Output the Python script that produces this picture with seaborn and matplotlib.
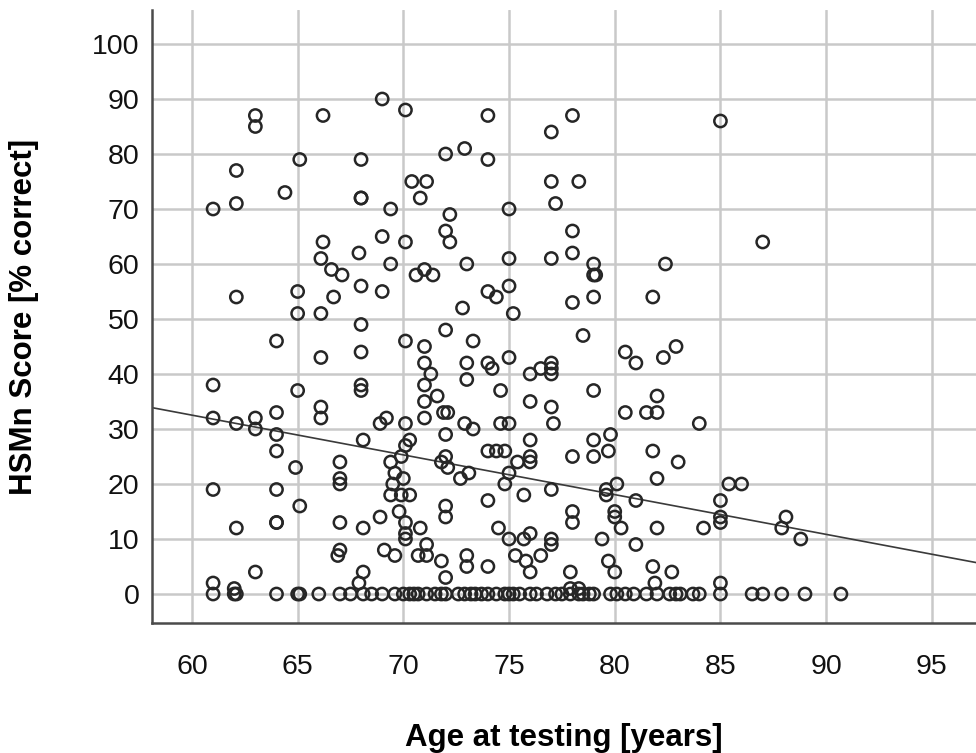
import pandas as pd
import matplotlib
matplotlib.use("Agg")
import matplotlib.pyplot as plt
import seaborn as sns

# Punkte mit Score > 0 (Alter in Jahren, Score in % korrekt)
ages = [63.0, 63.0, 66.2, 65.1, 62.1, 64.4, 62.1, 61.0,
        66.2, 66.1, 66.6, 62.1, 65.0, 65.0, 66.1, 64.0, 66.1, 61.0, 65.0, 66.1, 66.1, 61.0, 62.1, 63.0, 64.0, 63.0,
        64.0, 64.0, 64.9, 61.0, 64.0, 65.1, 62.1, 64.0, 64.0, 63.0, 61.0, 62.0,
        69.0, 70.1, 74.0, 68.0, 72.0, 72.9, 74.0, 70.4, 71.1, 68.0, 68.0, 70.8, 69.4, 72.2, 75.0,
        69.0, 70.1, 72.0, 72.2, 67.9, 67.1, 69.4, 70.6, 71.0, 71.4, 73.0, 68.0, 69.0, 66.7, 74.0, 74.4,
        72.8, 68.0, 72.0, 70.1, 71.0, 73.3, 68.0, 71.0, 73.0, 74.0, 74.2, 71.3, 73.0, 68.0, 68.0, 71.0,
        74.6, 71.6, 71.0, 71.9, 72.1, 71.0, 69.2, 68.9, 70.1, 72.9, 73.3,
        68.1, 70.3, 70.1, 72.0, 67.0, 67.0, 67.0, 69.4, 69.6, 69.9, 70.0, 69.5, 69.4, 69.9, 70.3,
        69.8, 70.1, 70.1, 70.1, 68.9, 67.0, 68.1, 70.8, 72.0, 72.0, 71.8, 72.0, 72.1, 72.7, 73.1,
        74.0, 74.4, 74.0, 74.5, 71.1, 70.7, 71.1, 67.0, 66.9, 69.1, 69.6, 71.8, 72.0, 73.0, 73.0,
        74.0, 68.1, 67.9,
        78.0, 77.0, 77.0, 78.3, 77.2, 78.0,
        75.0, 77.0, 78.0, 79.0, 79.0, 79.1, 82.4, 75.0, 75.2, 78.0, 79.0, 81.8, 78.5, 75.0, 76.0, 76.5,
        77.0, 77.0, 77.0, 80.5, 81.0, 82.3, 82.9, 79.0, 76.0, 77.0, 77.1, 74.6, 75.0, 80.5, 81.5, 82.0, 82.0,
        79.0, 79.8, 76.0, 74.8, 76.0, 76.0, 75.4, 75.0, 74.8, 78.0, 79.0, 79.7, 81.8, 82.0, 77.0, 75.7,
        79.6, 80.1, 79.6, 81.0, 78.0, 78.0, 80.0, 80.0, 80.3, 82.0, 75.0, 76.0, 75.7, 77.0, 77.0, 75.3,
        75.8, 76.5, 76.0, 79.4, 81.0, 79.7, 80.0, 81.8, 81.9, 82.7, 77.9, 77.9, 78.3,
        85.0, 87.0, 84.0, 83.0, 85.4, 86.0, 85.0, 85.0, 85.0, 84.2, 88.1, 87.9, 88.8, 85.0]
scores = [87, 85, 87, 79, 77, 73, 71, 70,
          64, 61, 59, 54, 55, 51, 51, 46, 43, 38, 37, 34, 32, 32, 31, 32, 33, 30,
          29, 26, 23, 19, 19, 16, 12, 13, 13, 4, 2, 1,
          90, 88, 87, 79, 80, 81, 79, 75, 75, 72, 72, 72, 70, 69, 70,
          65, 64, 66, 64, 62, 58, 60, 58, 59, 58, 60, 56, 55, 54, 55, 54,
          52, 49, 48, 46, 45, 46, 44, 42, 42, 42, 41, 40, 39, 38, 37, 38,
          37, 36, 35, 33, 33, 32, 32, 31, 31, 31, 30,
          28, 28, 27, 29, 24, 21, 20, 24, 22, 25, 21, 20, 18, 18, 18,
          15, 13, 11, 10, 14, 13, 12, 12, 16, 14, 24, 25, 23, 21, 22,
          26, 26, 17, 12, 9, 7, 7, 8, 7, 8, 7, 6, 3, 7, 5,
          5, 4, 2,
          87, 84, 75, 75, 71, 66,
          61, 61, 62, 60, 58, 58, 60, 56, 51, 53, 54, 54, 47, 43, 40, 41,
          42, 41, 40, 44, 42, 43, 45, 37, 35, 34, 31, 31, 31, 33, 33, 33, 36,
          28, 29, 28, 26, 25, 24, 24, 22, 20, 25, 25, 26, 26, 21, 19, 18,
          19, 20, 18, 17, 15, 13, 15, 14, 12, 12, 10, 11, 10, 10, 9, 7,
          6, 7, 4, 10, 9, 6, 4, 5, 2, 4, 4, 1, 1,
          86, 64, 31, 24, 20, 20, 17, 14, 13, 12, 14, 12, 10, 2]

# Punkte mit Score = 0
zero_ages = [61.0, 62.0, 62.1, 64.0, 65.0, 65.1, 66.0, 67.0, 67.5, 68.1, 68.5, 69.0, 69.6, 70.0, 70.3,
             70.5, 70.7, 71.1, 71.5, 71.8, 72.0, 72.6, 72.9, 73.2, 73.4, 73.7, 74.0, 74.4, 74.8, 75.0,
             75.2, 75.5, 76.0, 76.3, 76.8, 77.2, 77.5, 77.9, 78.3, 78.5, 78.8, 79.0, 79.8, 80.1, 80.5,
             80.9, 81.5, 82.0, 82.6, 82.9, 83.1, 83.7, 84.0, 85.0, 86.5, 87.0, 87.9, 89.0, 90.7]

# lineare Anpassung
fit_intercept = 75.87
fit_slope = -0.7225

x_ticks = [60, 65, 70, 75, 80, 85, 90, 95]
y_ticks = [0, 10, 20, 30, 40, 50, 60, 70, 80, 90, 100]

df = pd.DataFrame({
    "age": ages + zero_ages,
    "score": scores + [0] * len(zero_ages),
})

sns.set_theme(style="white")
plt.rcParams["font.family"] = ["Liberation Sans", "DejaVu Sans"]

fig = plt.figure(figsize=(9.76, 7.53), dpi=100)
ax = fig.add_axes([152 / 976, 130 / 753, 824 / 976, 613 / 753])

ax.set_xlim(58.11, 97.09)
ax.set_ylim(-5.27, 106.18)
ax.set_xticks(x_ticks)
ax.set_yticks(y_ticks)
ax.grid(True, color="#c9c9c9", linewidth=1.8)
ax.set_axisbelow(True)

sns.scatterplot(data=df, x="age", y="score", ax=ax, marker="o", s=78,
                facecolor="none", edgecolor="#262626", linewidth=1.8, zorder=3)

ax.axline((0, fit_intercept), slope=fit_slope, color="#3a3a3a", linewidth=1.2, zorder=2)

for side in ["top", "right"]:
    ax.spines[side].set_visible(False)
for side in ["left", "bottom"]:
    ax.spines[side].set_color("#4a4a4a")
    ax.spines[side].set_linewidth(1.8)

ax.tick_params(axis="both", length=0, labelsize=20.5, colors="#111111")
ax.tick_params(axis="x", pad=22)
ax.tick_params(axis="y", pad=9)

ax.set_xlabel("Age at testing [years]", fontsize=22.5, fontweight="bold", labelpad=31, color="black")
ax.set_ylabel("HSMn Score [% correct]", fontsize=22.5, fontweight="bold", labelpad=38, color="black")

fig.savefig("out.png", dpi=100)
